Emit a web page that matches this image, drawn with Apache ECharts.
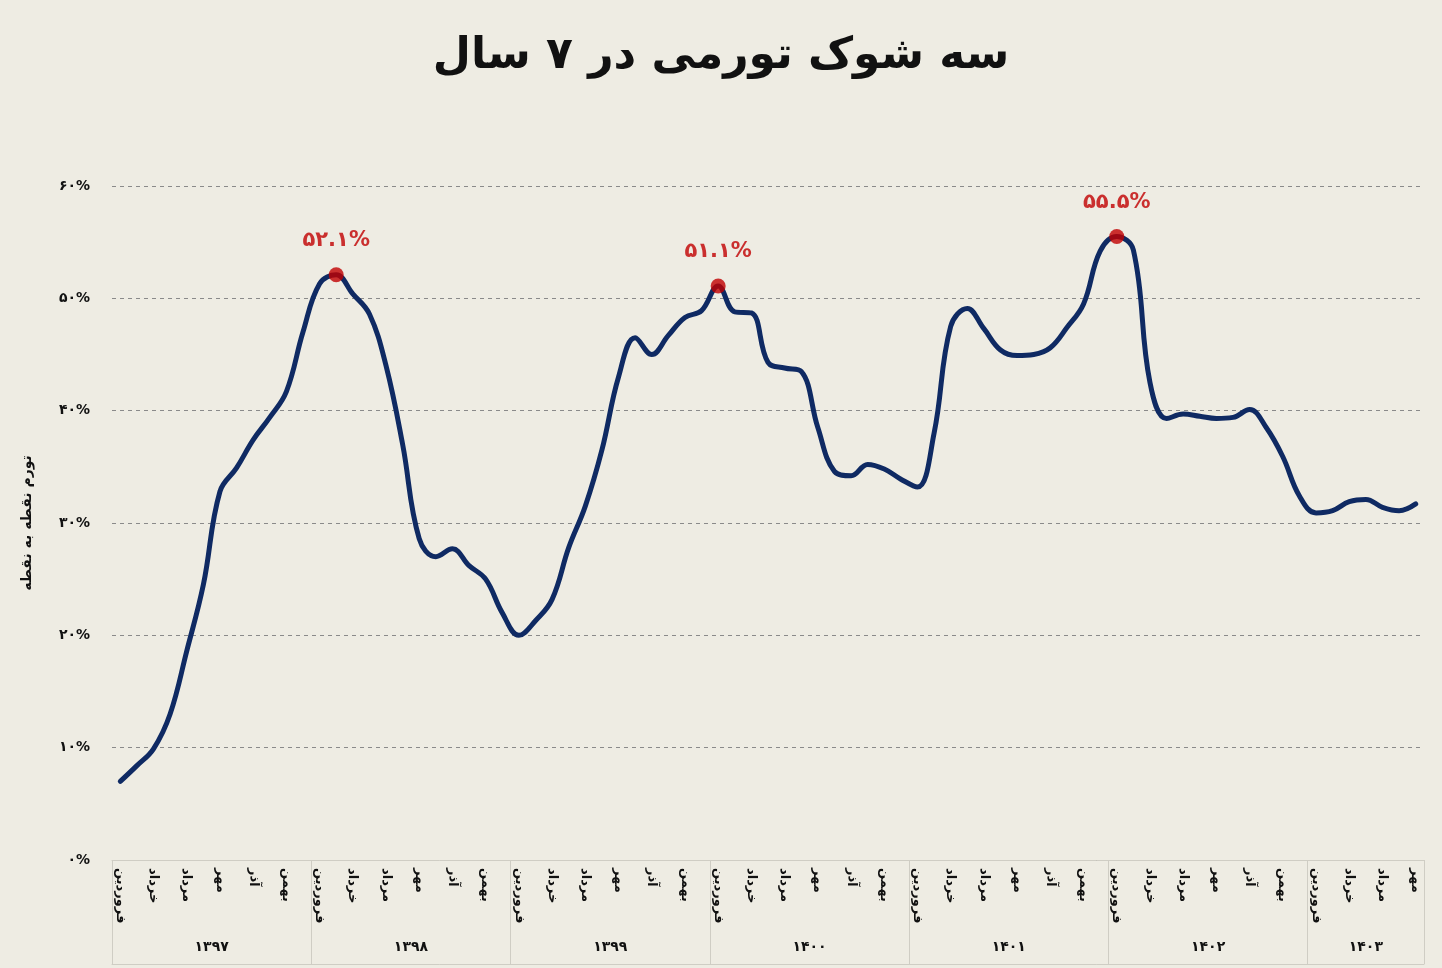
<!DOCTYPE html>
<html>
<head>
<meta charset="utf-8">
<script src="https://cdn.jsdelivr.net/npm/echarts@6/dist/echarts.min.js"></script>
<style>
html,body{margin:0;padding:0;background:#eeece3;}
#chart{width:1442px;height:968px;}
</style>
</head>
<body>
<div id="chart"></div>
<script>
// ---- data ----
const monthNames = ['فروردین','اردیبهشت','خرداد','تیر','مرداد','شهریور','مهر','آبان','آذر','دی','بهمن','اسفند'];
const years = ['۱۳۹۷','۱۳۹۸','۱۳۹۹','۱۴۰۰','۱۴۰۱','۱۴۰۲','۱۴۰۳'];
const monthsPerYear = [12,12,12,12,12,12,7];
// point-to-point inflation, %
const inflation1397 = [7.0, 8.4, 9.9, 13.0, 18.6, 24.5, 32.8, 34.9, 37.4, 39.4, 41.7, 47.0];
const inflation1398 = [51.3, 52.1, 50.4, 48.6, 44.0, 37.0, 28.6, 27.0, 27.7, 26.2, 25.0, 22.0];
const inflation1399 = [20.0, 21.3, 23.2, 27.8, 31.5, 36.5, 43.0, 46.5, 45.0, 46.7, 48.3, 48.9];
const inflation1400 = [51.1, 48.8, 48.7, 44.3, 43.8, 43.5, 38.5, 34.6, 34.2, 35.2, 34.8, 33.9];
const inflation1401 = [33.2, 38.0, 47.5, 49.1, 47.3, 45.4, 44.9, 45.0, 45.6, 47.4, 49.5, 54.2];
const inflation1402 = [55.5, 54.3, 42.5, 39.3, 39.7, 39.5, 39.3, 39.4, 40.1, 38.5, 35.9, 32.4];
const inflation1403 = [30.9, 31.1, 31.9, 32.1, 31.4, 31.1, 31.7];
const peakIndices = [13, 36, 60];
const yTicks = [0, 10, 20, 30, 40, 50, 60];

// ---- build ----
const values = [].concat(inflation1397, inflation1398, inflation1399, inflation1400, inflation1401, inflation1402, inflation1403);
const categories = [];
monthsPerYear.forEach((n, y) => { for (let m = 0; m < n; m++) categories.push(monthNames[m]); });
const yearBounds = [0];
monthsPerYear.forEach(n => yearBounds.push(yearBounds[yearBounds.length - 1] + n));
const yearCenters = monthsPerYear.map((n, i) => yearBounds[i] + n / 2);
const total = categories.length;
const fa = s => String(s).replace(/\d/g, d => '۰۱۲۳۴۵۶۷۸۹'[d]);

const FONT = "'DejaVu Sans', sans-serif";
const chart = echarts.init(document.getElementById('chart'));
chart.setOption({
  backgroundColor: '#eeece3',
  animation: false,
  title: {
    text: 'سه شوک تورمی در ۷ سال',
    left: 'center', top: 30,
    textStyle: { fontFamily: FONT, fontSize: 44, fontWeight: 'bold', color: '#111' }
  },
  grid: { left: 112, right: 18, top: 186, bottom: 108, containLabel: false },
  xAxis: [
    {
      type: 'category', data: categories, boundaryGap: true,
      axisLine: { show: true, lineStyle: { color: '#cfcdc4', width: 1 } },
      axisTick: { show: false },
      axisLabel: {
        interval: 1, rotate: -90, margin: 8,
        fontFamily: FONT, fontSize: 13, fontWeight: 'bold', color: '#111'
      },
      splitLine: { show: false }
    },
    {
      type: 'value', min: 0, max: total, position: 'bottom',
      axisLine: { show: false },
      splitLine: { show: false },
      axisTick: { show: true, length: 104, customValues: yearBounds, lineStyle: { color: '#cfcdc4', width: 1 } },
      axisLabel: {
        customValues: yearCenters, margin: 80,
        fontFamily: FONT, fontSize: 14, fontWeight: 'bold', color: '#111',
        formatter: v => years[Math.min(years.length - 1, Math.floor(v / 12))]
      }
    },
    {
      type: 'value', min: 0, max: total, position: 'bottom', offset: 104,
      axisLine: { show: true, lineStyle: { color: '#cfcdc4', width: 1 } },
      axisTick: { show: false }, axisLabel: { show: false }, splitLine: { show: false }
    }
  ],
  yAxis: {
    type: 'value', min: yTicks[0], max: yTicks[yTicks.length - 1], interval: 10,
    name: 'تورم نقطه به نقطه', nameLocation: 'middle', nameGap: 78,
    nameTextStyle: { fontFamily: FONT, fontSize: 14, fontWeight: 'bold', color: '#111' },
    axisLine: { show: false }, axisTick: { show: false },
    axisLabel: {
      margin: 22, fontFamily: FONT, fontSize: 14, fontWeight: 'bold', color: '#111',
      formatter: v => fa(v) + '%'
    },
    splitLine: { show: true, lineStyle: { type: [4, 4], color: '#8a8a8a', width: 1 } }
  },
  series: [
    {
      type: 'line', xAxisIndex: 0, data: values, smooth: 0.4,
      showSymbol: false, symbol: 'none',
      lineStyle: { color: '#0f2a63', width: 5, cap: 'round', join: 'round' }
    },
    {
      type: 'scatter', xAxisIndex: 0,
      data: peakIndices.map(i => [i, values[i]]),
      symbolSize: 15,
      itemStyle: { color: '#c00000' },
      label: {
        show: true, position: 'top', distance: 16,
        fontFamily: FONT, fontSize: 21, fontWeight: 'bold', color: '#c00000',
        formatter: p => fa(p.value[1].toFixed(1)) + '%'
      },
      z: 5
    }
  ]
});
</script>
</body>
</html>
